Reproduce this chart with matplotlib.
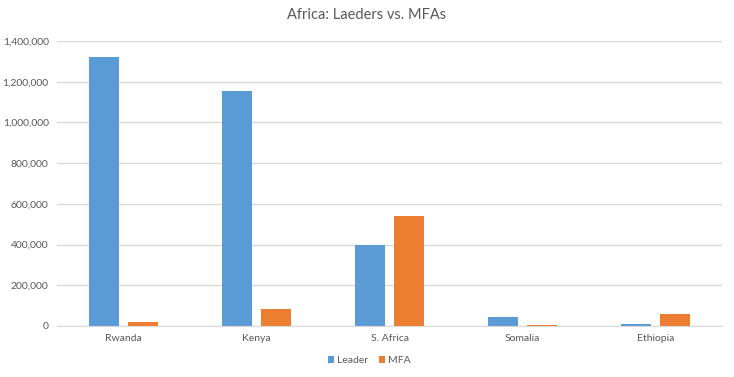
import numpy as np
import matplotlib.pyplot as plt
from matplotlib.ticker import FuncFormatter

countries = ["Rwanda", "Kenya", "S. Africa", "Somalia", "Ethiopia"]
leader = [1320000, 1154000, 396000, 42000, 10000]
mfa = [20000, 84000, 541000, 4000, 61000]

plt.rcParams['font.family'] = ['Lato', 'DejaVu Sans']
text_color = '#595959'

fig = plt.figure(figsize=(7.34, 3.77), dpi=100)
ax = fig.add_axes([0.0777, 0.1353, 0.906, 0.756])

x = np.arange(len(countries))
width = 0.222
offset = 0.145
ax.bar(x - offset, leader, width, color='#5B9BD5', label='Leader')
ax.bar(x + offset, mfa, width, color='#ED7D31', label='MFA')

ax.set_xlim(-0.5, len(countries) - 0.5)
ax.set_ylim(0, 1400000)
ax.set_yticks(np.arange(0, 1400001, 200000))
ax.yaxis.set_major_formatter(FuncFormatter(lambda v, p: f"{int(v):,}"))
ax.set_xticks(x)
ax.set_xticklabels(countries)

ax.grid(axis='y', color='#D9D9D9', linewidth=1)
ax.set_axisbelow(True)
for s in ['top', 'right', 'left']:
    ax.spines[s].set_visible(False)
ax.spines['bottom'].set_color('#D9D9D9')
ax.tick_params(length=0, labelsize=7.5, colors=text_color)
ax.tick_params(axis='x', pad=6)
ax.tick_params(axis='y', pad=6)

fig.text(0.5, 0.96, "Africa: Laeders vs. MFAs", fontsize=10.5, color=text_color,
         ha='center', va='center')
fig.legend(loc='center', bbox_to_anchor=(0.503, 0.043), ncol=2, frameon=False,
           fontsize=7.5, handlelength=0.6, handleheight=0.6, handletextpad=0.3,
           columnspacing=1.0, labelcolor=text_color)

fig.savefig("out.png", dpi=100)
